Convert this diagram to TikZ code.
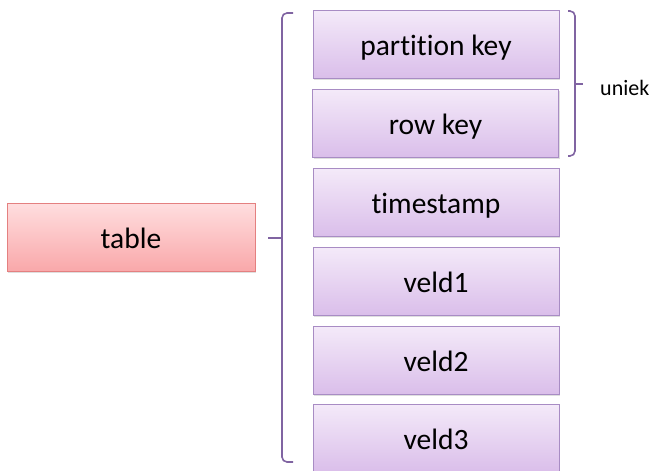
\documentclass[tikz,border=0pt]{standalone}
\usepackage{fontspec}
\setmainfont{Carlito}[Ligatures=NoCommon]
\usetikzlibrary{shadows}
\definecolor{brk}{RGB}{128,100,162}
\definecolor{pinktop}{RGB}{255,222,223}
\definecolor{pinkbot}{RGB}{249,168,170}
\definecolor{pinkdraw}{RGB}{228,128,128}
\definecolor{purtop}{RGB}{244,234,249}
\definecolor{purbot}{RGB}{218,190,234}
\definecolor{purdraw}{RGB}{168,140,196}
\tikzset{
  basebox/.style={rectangle, minimum height=68pt, inner sep=0pt,
    text height=24pt, text depth=2pt,
    font=\fontsize{29.5}{34}\selectfont, text=black,
    drop shadow={opacity=0.25, shadow xshift=1pt, shadow yshift=-2pt}},
  tablebox/.style={basebox, minimum width=248pt, top color=pinktop, bottom color=pinkbot, draw=pinkdraw, line width=0.8pt},
  fieldbox/.style={basebox, minimum width=246pt, top color=purtop, bottom color=purbot, draw=purdraw, line width=0.8pt},
  brace/.style={draw=brk, line width=1.6pt, rounded corners=5pt},
  tick/.style={draw=brk, line width=1.6pt},
}
\begin{document}
\begin{tikzpicture}[x=1pt,y=-1pt]
\useasboundingbox (0,0) rectangle (654,471);
\fill[white] (0,0) rectangle (654,471);
\node[tablebox] (table) at (131,237) {table};
\node[fieldbox] (pk) at (436,44) {partition key};
\node[fieldbox] (rk) at (435.5,123) {row key};
\node[fieldbox] (ts) at (436,202) {timestamp};
\node[fieldbox] (v1) at (436,281) {veld1};
\node[fieldbox] (v2) at (436,360) {veld2};
\node[fieldbox] (v3) at (436,438) {veld3};
% left brace
\coordinate (lt) at (293,13);
\coordinate (lb) at (293,462);
\coordinate (lm) at (282,238);
\coordinate (ltip) at (268,238);
\path[brace] (lt) -- (282,13) -- (282,462) -- (lb);
\path[tick] (lm) -- (ltip);
% right brace
\coordinate (rt) at (568,11);
\coordinate (rb) at (568,156);
\coordinate (rm) at (575,84);
\coordinate (rtip) at (583,84);
\path[brace] (rt) -- (575,11) -- (575,156) -- (rb);
\path[tick] (rm) -- (rtip);
\node[anchor=west, inner sep=0pt, font=\fontsize{22}{26}\selectfont] (uniek) at (600,88) {uniek};
\end{tikzpicture}
\end{document}
